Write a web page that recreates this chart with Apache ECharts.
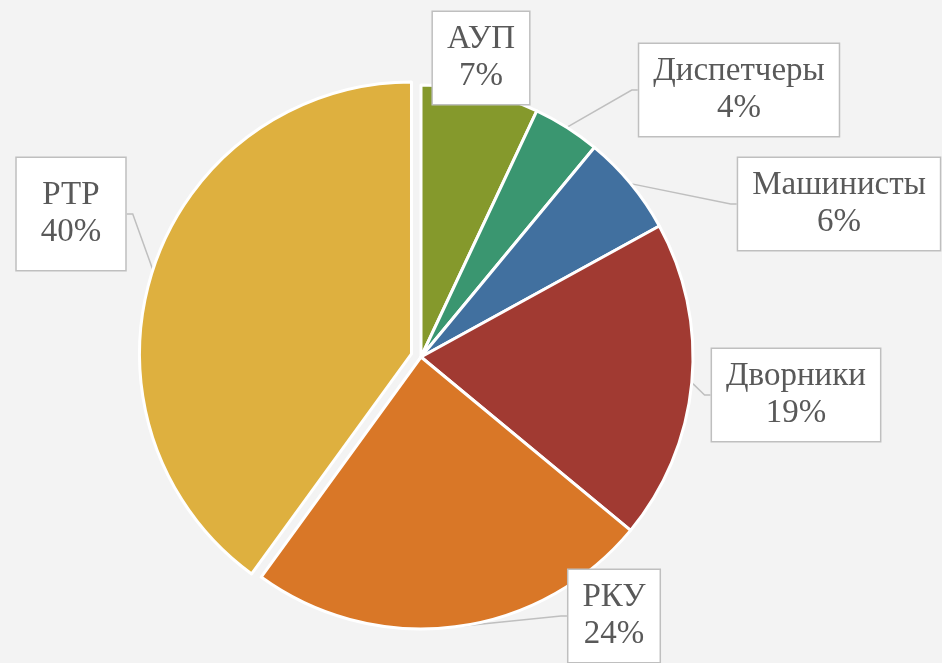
<!DOCTYPE html>
<html>
<head>
<meta charset="utf-8">
<script src="https://cdn.jsdelivr.net/npm/echarts@6/dist/echarts.min.js"></script>
<style>
  html, body { margin: 0; padding: 0; background: #f3f3f3; }
  #chart { width: 942px; height: 663px; }
</style>
</head>
<body>
<div id="chart"></div>
<script>
const categories = ["АУП", "Диспетчеры", "Машинисты", "Дворники", "РКУ", "РТР"];
const shares = [7, 4, 6, 19, 24, 40];
const colors = ["#85992c", "#3a9670", "#41709f", "#a13a32", "#d97727", "#deb03f"];
const pulledOut = 5; // РТР is pulled out of the pie

// where each callout box sits (centre, px)
const labelSpots = [
  [481, 58],
  [739, 90],
  [839, 204],
  [796, 395],
  [614, 616],
  [71, 214],
];

const center = [421, 357];
const radius = 272;
const explode = 10;

// direction of the pulled-out slice's bisector (start at top, clockwise)
const before = shares.slice(0, pulledOut).reduce((a, b) => a + b, 0);
const total = shares.reduce((a, b) => a + b, 0);
const midAngle = ((before + shares[pulledOut] / 2) / total) * 2 * Math.PI;
const shiftedCenter = [
  center[0] + Math.sin(midAngle) * explode,
  center[1] - Math.cos(midAngle) * explode,
];

const labelBase = {
  formatter: (p) => `${p.name}\n${p.value}%`,
  fontFamily: "Liberation Serif",
  fontSize: 33,
  lineHeight: 37,
  color: "#595959",
  backgroundColor: "#ffffff",
  borderColor: "#bfbfbf",
  borderWidth: 1.5,
  padding: [9, 14],
  align: "center",
};

function pieSeries(c, visible) {
  return {
    type: "pie",
    center: c,
    radius: radius,
    startAngle: 90,
    clockwise: true,
    silent: true,
    avoidLabelOverlap: false,
    itemStyle: { borderColor: "#ffffff", borderWidth: 3 },
    label: Object.assign({ show: true }, labelBase),
    labelLine: {
      show: true,
      length: 10,
      length2: 6,
      lineStyle: { color: "#bfbfbf", width: 1.5 },
    },
    labelLayout: (params) => {
      const spot = labelSpots[params.dataIndex];
      return { x: spot[0], y: spot[1], align: "center", verticalAlign: "middle" };
    },
    data: categories.map((name, i) => {
      const on = visible(i);
      const label = { show: on };
      if (i === pulledOut) label.padding = [19, 24];
      return {
        name,
        value: shares[i],
        itemStyle: on
          ? { color: colors[i] }
          : { color: "transparent", borderWidth: 0 },
        label,
        labelLine: { show: on && i !== 0 },
      };
    }),
  };
}

const chart = echarts.init(document.getElementById("chart"));

chart.setOption({
  backgroundColor: "#f3f3f3",
  animation: false,
  series: [
    pieSeries(center, (i) => i !== pulledOut),
    pieSeries(shiftedCenter, (i) => i === pulledOut),
  ],
});
</script>
</body>
</html>
